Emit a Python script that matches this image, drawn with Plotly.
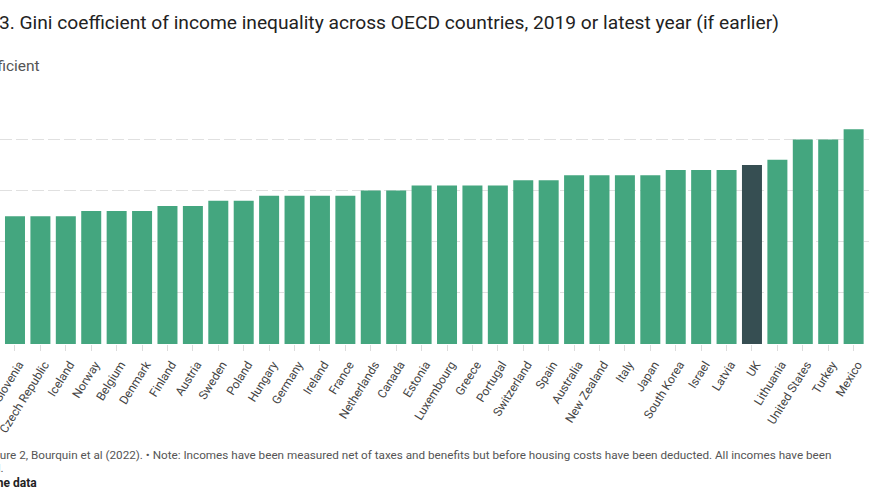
import plotly.graph_objects as go

# ---- data ----
countries = ["Slovenia", "Czech Republic", "Iceland", "Norway", "Belgium", "Denmark",
             "Finland", "Austria", "Sweden", "Poland", "Hungary", "Germany", "Ireland",
             "France", "Netherlands", "Canada", "Estonia", "Luxembourg", "Greece",
             "Portugal", "Switzerland", "Spain", "Australia", "New Zealand", "Italy",
             "Japan", "South Korea", "Israel", "Latvia", "UK", "Lithuania",
             "United States", "Turkey", "Mexico", "Chile"]
gini = [0.25, 0.25, 0.25, 0.26, 0.26, 0.26,
        0.27, 0.27, 0.28, 0.28, 0.29, 0.29, 0.29,
        0.29, 0.30, 0.30, 0.31, 0.31, 0.31,
        0.31, 0.32, 0.32, 0.33, 0.33, 0.33,
        0.33, 0.34, 0.34, 0.34, 0.35, 0.36,
        0.40, 0.40, 0.42, 0.46]
highlight = "UK"

title_text = "Figure 3. Gini coefficient of income inequality across OECD countries, 2019 or latest year (if earlier)"
subtitle_text = "Gini coefficient"
note_line1 = ("Source: Figure 2, Bourquin et al (2022). • Note: Incomes have been measured net of taxes "
              "and benefits but before housing costs have been deducted. All incomes have been")
note_line2 = "equivalised."
data_link = "Get the data"

# ---- layout helpers ----
W, H = 869, 504
TOP, BOT = 88, 344


def ypos(p):
    return (BOT - p) / (BOT - TOP)


def xpos(p):
    return p / W


GREEN = "#44a67f"
DARK = "#364e52"
colors = [DARK if c == highlight else GREEN for c in countries]

fig = go.Figure(go.Bar(x=countries, y=gini, marker_color=colors, marker_line_width=0,
                       hoverinfo="x+y"))

fig.update_layout(
    width=W, height=H,
    margin=dict(l=0, r=0, t=TOP, b=H - BOT, autoexpand=False),
    plot_bgcolor="white", paper_bgcolor="white",
    bargap=0.213, showlegend=False,
    font=dict(family="Roboto", color="#333"),
)
fig.update_xaxes(range=[-0.59, 33.605], tickangle=-58, ticks="outside", ticklen=6,
                 tickcolor="#dcdcdc", tickfont=dict(family="Roboto", size=12, color="#444"),
                 ticklabelshift=4, ticklabelstandoff=2,
                 showgrid=False, showline=False, zeroline=False, automargin=False)
fig.update_yaxes(range=[0, 0.5005], dtick=0.1, showticklabels=False, ticks="",
                 gridcolor="#e0e0e0", gridwidth=1, griddash="12px,4px",
                 zeroline=False, showline=False, automargin=False)

anns = [
    dict(text=title_text, x=xpos(-61), y=ypos(22), size=19.2, color="#222"),
    dict(text=subtitle_text, x=xpos(-65), y=ypos(66), size=15.5, color="#555"),
    dict(text=note_line1, x=xpos(-60), y=ypos(455), size=11.7, color="#555"),
    dict(text=note_line2, x=xpos(-60), y=ypos(468), size=11.7, color="#555"),
    dict(text="<b>" + data_link + "</b>", x=xpos(-31), y=ypos(483), size=12, color="#222"),
]
for a in anns:
    fig.add_annotation(text=a["text"], x=a["x"], y=a["y"], xref="paper", yref="paper",
                       xanchor="left", yanchor="middle", showarrow=False,
                       font=dict(family="Roboto", size=a["size"], color=a["color"]))

fig.write_html("out.html")
